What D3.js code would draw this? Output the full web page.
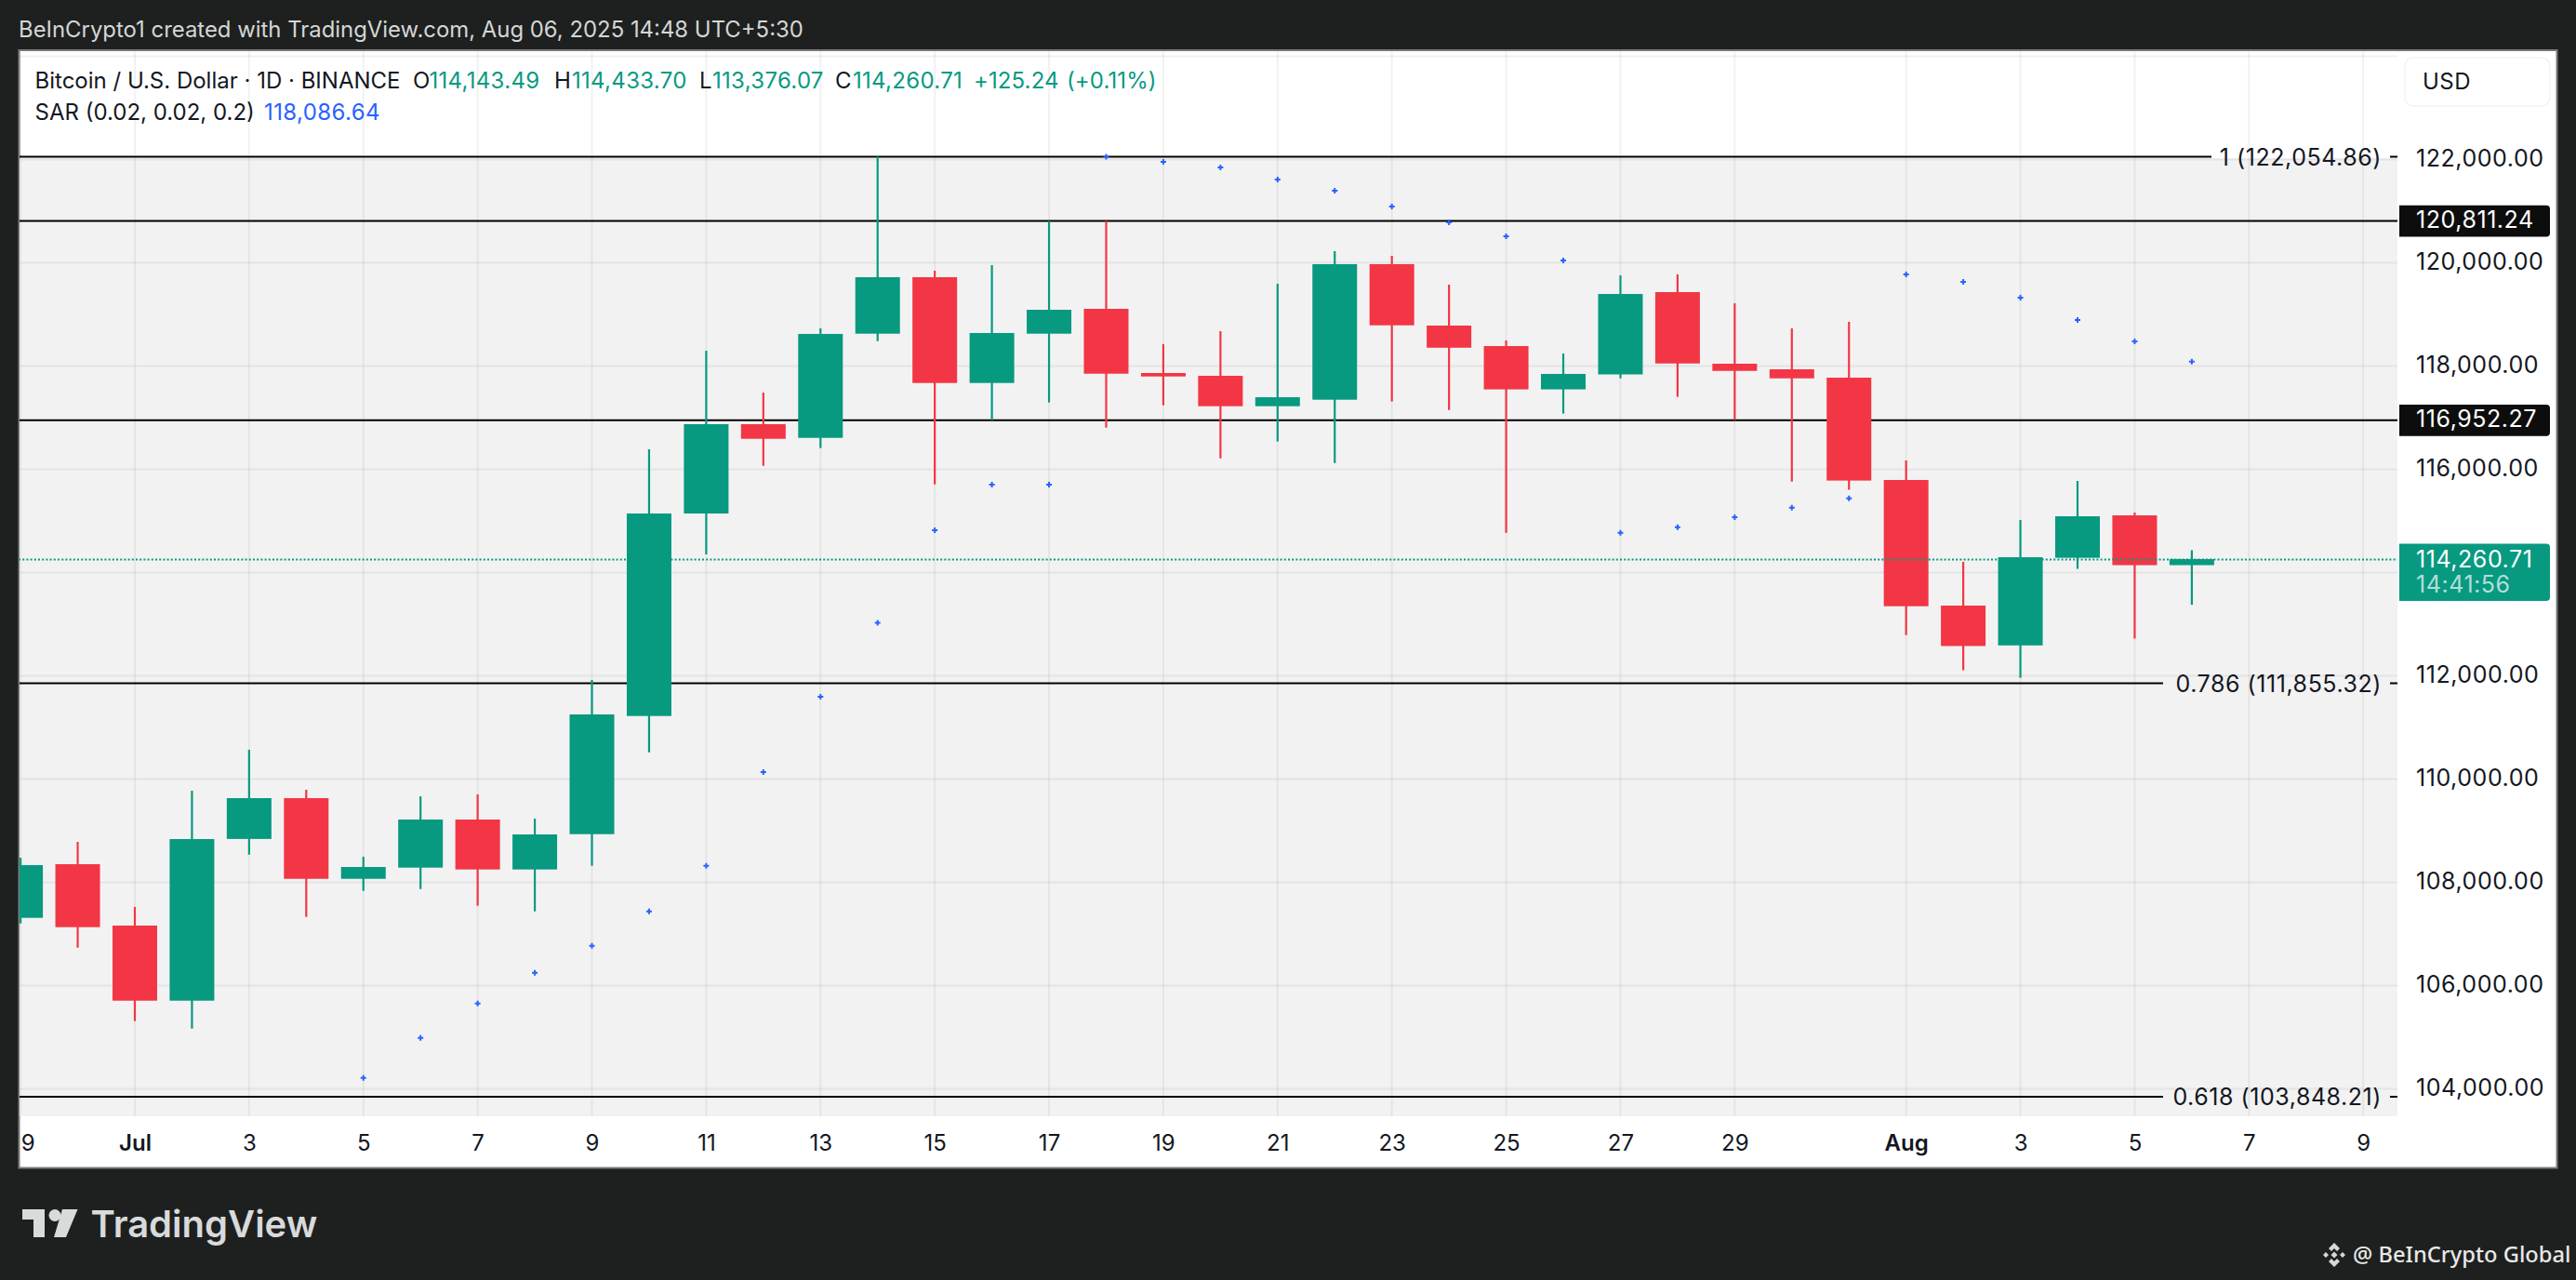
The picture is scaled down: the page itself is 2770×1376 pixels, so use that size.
<!DOCTYPE html>
<html><head><meta charset="utf-8">
<style>html,body{margin:0;padding:0;background:#1e201f;overflow:hidden}svg{display:block}text{font-family:Inter,"Noto Sans",sans-serif}</style>
<script src="https://cdn.jsdelivr.net/npm/d3@7/dist/d3.min.js"></script>
</head><body><svg id="c" width="2770" height="1376"></svg>
<script>
const dates=["06-29","06-30","07-01","07-02","07-03","07-04","07-05","07-06","07-07","07-08","07-09","07-10","07-11","07-12","07-13","07-14","07-15","07-16","07-17","07-18","07-19","07-20","07-21","07-22","07-23","07-24","07-25","07-26","07-27","07-28","07-29","07-30","07-31","08-01","08-02","08-03","08-04","08-05","08-06"];
const opens=[107312,108351,107162,105708,108840,109631,108068,108285,109216,108249,108933,111222,115144,116874,116609,118627,119721,117672,118627,119108,117865,117811,117222,117348,119973,118784,118387,117548,117838,119432,118045,117937,117775,115793,113360,112589,114286,115108,114143.49];
const highs=[108478,108784,107523,109775,110568,109793,108495,109667,109703,109234,111919,116387,118297,117486,118730,122054.86,119847,119955,120811.24,120811.24,118423,118676,119595,120225,120135,119577,118495,118243,119757,119775,119216,118730,118856,116171,114207,115018,115775,115162,114433.70];
const lows=[107204,106735,105312,105168,108537,107330,107834,107870,107546,107438,108321,110519,114351,116068,116411,118483,115708,116951,117294,116807,117240,116213,116537,116121,117314,117148,114769,117079,117762,117404,116955,115762,115604,112789,112108,111962,114072,112721,113376.07];
const closes=[108333,107132,105708,108838,109631,108068,108297,109216,108249,108928,111252,115144,116874,116591,118622,119721,117672,118640,119090,117852,117798,117222,117396,119973,118789,118355,117548,117847,119396,118050,117906,117762,115782,113348,112577,114297,115090,114143,114260.71];
const sar=[null,null,null,null,null,null,104213,104987,105654,106249,106771,107438,108321,110135,111595,113027,114820,115703,115703,122054.86,121955,121847,121613,121396,121090,120784,120514,120045,114769,114879,115072,115258,115438,119775,119631,119326,118892,118477,118086.64];
const priceTicks=[104000,106000,108000,110000,112000,114000,116000,118000,120000,122000];
const gridExtra=[124000];
const timeTicks=["06-29","07-01","07-03","07-05","07-07","07-09","07-11","07-13","07-15","07-17","07-19","07-21","07-23","07-25","07-27","07-29","08-01","08-03","08-05","08-07","08-09"];
const timeLabels=["9","Jul","3","5","7","9","11","13","15","17","19","21","23","25","27","29","Aug","3","5","7","9"];
const fibLevels=[1,0.786,0.618];
const fibValues=[122054.86,111855.32,103848.21];
const plainLevels=[120811.24,116952.27];
const lastPrice=114260.71;
const GREEN="#089981",RED="#F23645",BLUE="#2962FF";

const date=s=>new Date(Date.UTC(2025,+s.slice(0,2)-1,+s.slice(3)));
const x=d3.scaleUtc().domain([date("06-29"),date("08-09")]).range([22.1,2541.2]);
const y=d3.scaleLinear().domain([104000,122000]).range([1170.5,171.5]);
const svg=d3.select("#c");
const L=20,R=2578,T=54,B=1200,FR=2749.5,FB=1255.5;
const candles=dates.map((d,i)=>({d:date(d),o:opens[i],h:highs[i],l:lows[i],c:closes[i],s:sar[i]}));

svg.append("rect").attr("width",2770).attr("height",1376).attr("fill","#1e201f");
svg.append("rect").attr("x",L+.5).attr("y",T).attr("width",FR-L-.5).attr("height",FB-T).attr("fill","#fff").attr("stroke","#7a7c7c").attr("stroke-width",2);
svg.append("rect").attr("x",L+1).attr("y",170).attr("width",R-L-1).attr("height",B-170).attr("fill","#f2f2f2");
const defs=svg.append("defs");
defs.append("clipPath").attr("id","pane").append("rect").attr("x",L+1).attr("y",T+1).attr("width",R-L-1).attr("height",B-T-1);
const pane=svg.append("g").attr("clip-path","url(#pane)");

// grid
const gridC="rgba(0,0,0,.055)";
pane.append("g").selectAll("line").data(priceTicks.concat(gridExtra)).join("line")
 .attr("x1",L).attr("x2",R).attr("y1",d=>y(d)).attr("y2",d=>y(d)).attr("stroke",gridC).attr("stroke-width",2);
pane.append("g").selectAll("line").data(timeTicks.map(date)).join("line")
 .attr("x1",d=>x(d)).attr("x2",d=>x(d)).attr("y1",T).attr("y2",B).attr("stroke",gridC).attr("stroke-width",2);

// fib + horizontal levels
const gapL={1:2378,0.786:2326,0.618:2326};
pane.append("g").selectAll("path").data(fibValues).join("path")
 .attr("d",(v,i)=>`M${L},${y(v)}H${gapL[fibLevels[i]]}M2570,${y(v)}H${R}`).attr("stroke","#000").attr("stroke-width",2).attr("fill","none");
pane.append("g").selectAll("line").data(plainLevels).join("line")
 .attr("x1",L).attr("x2",R).attr("y1",d=>y(d)).attr("y2",d=>y(d)).attr("stroke","#000").attr("stroke-width",2);

// candles
const col=d=>d.c>=d.o?GREEN:RED;
const cg=pane.append("g");
cg.selectAll("line").data(candles).join("line").attr("x1",d=>x(d.d)).attr("x2",d=>x(d.d)).attr("y1",d=>y(d.h)).attr("y2",d=>y(d.l)).attr("stroke",col).attr("stroke-width",2.2);
cg.selectAll("rect").data(candles).join("rect").attr("x",d=>x(d.d)-24).attr("width",48).attr("y",d=>y(Math.max(d.o,d.c))).attr("height",d=>Math.max(2,Math.abs(y(d.o)-y(d.c)))).attr("fill",col);

// SAR
pane.append("g").selectAll("path").data(candles.filter(d=>d.s!=null)).join("path")
 .attr("d",d3.symbol(d3.symbolCross,20)).attr("transform",d=>`translate(${x(d.d)},${y(d.s)})`).attr("fill",BLUE);

// last price dotted
pane.append("line").attr("x1",L).attr("x2",R).attr("y1",y(lastPrice)+.5).attr("y2",y(lastPrice)+.5).attr("stroke",GREEN).attr("stroke-width",2).attr("stroke-dasharray","2 2.2");

// fib labels
const NS=25,LS=.55;
const fibG=svg.append("g");
fibG.selectAll("text").data(fibValues).join("text").attr("x",2561).attr("y",d=>y(d)+1).attr("dy",".34em").attr("text-anchor","end")
 .attr("font-size",NS).attr("fill","#131722").attr("letter-spacing",LS)
 .text((v,i)=>`${fibLevels[i]} (${d3.format(",.2f")(v)})`);

// price axis
const ya=svg.append("g").attr("transform","translate(2598,-1.5)").call(d3.axisRight(y).tickValues(priceTicks.filter(d=>d!==114000)).tickSize(0).tickPadding(0).tickFormat(d3.format(",.2f")));
ya.select(".domain").remove();
ya.selectAll("text").attr("font-size",NS).attr("fill","#131722").style("font-family","Inter").attr("letter-spacing",LS);

// time axis
const xa=svg.append("g").attr("transform","translate(0,1219.5)").call(d3.axisBottom(x).tickValues(timeTicks.map(date)).tickSize(0).tickPadding(0)
  .tickFormat((d,i)=>timeLabels[i]));
xa.select(".domain").remove();
xa.selectAll("text").attr("font-size",24).attr("fill","#131722").style("font-family","Inter")
  .attr("font-weight",(d,i)=>isNaN(+timeLabels[i])?600:400);
xa.selectAll(".tick").filter((d,i)=>i===0).select("text").attr("x",7.5);

// tags
function tag(h0,h1,fill){svg.append("path").attr("d",`M2580,${h0}H2738a4,4 0 0 1 4,4V${h1-4}a4,4 0 0 1 -4,4H2580Z`).attr("fill",fill);}
plainLevels.forEach(v=>{const c=y(v);tag(c-16.7,c+17,"#0d0d0d");
 svg.append("text").attr("x",2598).attr("y",c-1).attr("dy",".34em").attr("font-size",NS).attr("letter-spacing",LS).attr("fill","#fff").text(d3.format(",.2f")(v));});
{const c=y(lastPrice);tag(c-16.5,c+45,GREEN);
 svg.append("text").attr("x",2598).attr("y",c).attr("dy",".34em").attr("font-size",NS).attr("letter-spacing",LS).attr("fill","#fff").text(d3.format(",.2f")(lastPrice));
 svg.append("text").attr("x",2598).attr("y",c+27.5).attr("dy",".34em").attr("font-size",NS).attr("letter-spacing",LS).attr("fill","#fff").attr("fill-opacity",.7).text("14:41:56");}

// USD box
svg.append("rect").attr("x",2586).attr("y",62).attr("width",156).attr("height",52).attr("rx",9).attr("fill","#fff").attr("stroke","#f0f3fa").attr("stroke-width",1.5);
svg.append("text").attr("x",2605).attr("y",88).attr("dy",".35em").attr("font-size",24).attr("letter-spacing",.5).attr("fill","#131722").text("USD");

// header texts
function t(x0,yy,s,fill,size,ls){const e=svg.append("text").attr("x",x0).attr("y",yy).attr("dy",".35em").attr("font-size",size||24).attr("fill",fill).text(s);if(ls)e.attr("letter-spacing",ls);return e;}
t(20,32,"BeInCrypto1 created with TradingView.com, Aug 06, 2025 14:48 UTC+5:30","#d4d6d6",23.9);
const dark="#131722";
t(37.5,87,"Bitcoin / U.S. Dollar · 1D · BINANCE",dark,24);
[["O",444,"114,143.49",461.5],["H",596,"114,433.70",615],["L",752,"113,376.07",766],["C",898,"114,260.71",917]].forEach(a=>{t(a[1],87,a[0],dark,24);t(a[3],87,a[2],GREEN,24,.3);});
t(1047,87,"+125.24",GREEN,24,.1);t(1147,87,"(+0.11%)",GREEN,24,.1);
t(37.5,120.5,"SAR (0.02, 0.02, 0.2)",dark,24);
t(284,120.5,d3.format(",.2f")(sar[sar.length-1]),BLUE,24,.4);

// footer logo
const fc="#d8dadb";
svg.append("path").attr("d","M24,1300H48V1330H36V1311H24Z").attr("fill",fc);
svg.append("circle").attr("cx",59).attr("cy",1306.5).attr("r",6.5).attr("fill",fc);
svg.append("path").attr("d","M67,1300H83.5L71,1330H58Z").attr("fill",fc);
svg.append("text").attr("x",97.5).attr("y",1330).attr("font-size",40).attr("font-weight",600).attr("fill",fc).text("TradingView");
// BeInCrypto
svg.append("path").attr("d","M2510,1336l6,6-3,3-3-3-3,3-3-3ZM2510,1362l-6,-6 3,-3 3,3 3,-3 3,3ZM2498,1349l3,-3 3,3 -3,3ZM2516,1349l3,-3 3,3 -3,3ZM2510,1345.500l3.500,3.500-3.500,3.500-3.500,-3.500Z").attr("fill","#d8d8d8");
svg.append("text").attr("x",2530).attr("y",1349).attr("dy",".35em").attr("font-size",23.7).attr("font-weight",500).attr("fill","#e8e8e8").style("font-family","Noto Sans").text("@ BeInCrypto Global");
</script></body></html>
